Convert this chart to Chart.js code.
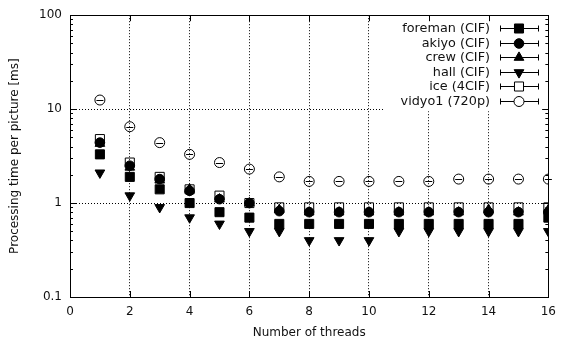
<!doctype html>
<html>
<head>
<meta charset="utf-8" />
<title>Processing time per picture</title>
<script src="https://cdn.jsdelivr.net/npm/chart.js"></script>
<style>
  html, body { margin: 0; padding: 0; background: #fff; }
  #wrap { width: 564px; height: 338px; }
</style>
</head>
<body>
<div id="wrap"><canvas id="c"></canvas></div>
<script>
// Werte
const threads = [1, 2, 3, 4, 5, 6, 7, 8, 9, 10, 11, 12, 13, 14, 15, 16];
const foreman = [3.3, 1.9, 1.4, 1.0, 0.8, 0.7, 0.6, 0.6, 0.6, 0.6, 0.6, 0.6, 0.6, 0.6, 0.6, 0.7];
const akiyo   = [4.4, 2.5, 1.8, 1.35, 1.1, 1.0, 0.82, 0.8, 0.8, 0.8, 0.8, 0.8, 0.8, 0.8, 0.8, 0.8];
const crew    = [4.3, 2.4, 1.75, 1.4, 1.1, 1.0, 0.85, 0.8, 0.8, 0.8, 0.8, 0.8, 0.8, 0.85, 0.8, 0.85];
const hall    = [2.1, 1.2, 0.9, 0.7, 0.6, 0.5, 0.5, 0.4, 0.4, 0.4, 0.5, 0.5, 0.5, 0.5, 0.5, 0.5];
const ice     = [4.8, 2.7, 1.9, 1.4, 1.2, 1.0, 0.9, 0.9, 0.9, 0.9, 0.9, 0.9, 0.9, 0.9, 0.9, 0.9];
const vidyo1  = [12.5, 6.5, 4.4, 3.3, 2.7, 2.3, 1.9, 1.7, 1.7, 1.7, 1.7, 1.7, 1.8, 1.8, 1.8, 1.8];

const seriesNames = ["foreman (CIF)", "akiyo (CIF)", "crew (CIF)", "hall (CIF)", "ice (4CIF)", "vidyo1 (720p)"];
const seriesValues = [foreman, akiyo, crew, hall, ice, vidyo1];
const xTicks = [0, 2, 4, 6, 8, 10, 12, 14, 16];
const yTicks = [0.1, 1, 10, 100];

const FONT = "'DejaVu Sans', sans-serif";
const INK = "#111";

const styles = [
  { pointStyle: "rect", radius: 6.4, fill: "#000", rot: 0 },
  { pointStyle: "circle", radius: 4.8, fill: "#000", rot: 0 },
  { pointStyle: "triangle", radius: 5.6, fill: "#000", rot: 0 },
  { pointStyle: "triangle", radius: 5.6, fill: "#000", rot: 180 },
  { pointStyle: "rect", radius: 6.4, fill: "rgba(0,0,0,0)", rot: 0 },
  { pointStyle: "circle", radius: 5, fill: "rgba(0,0,0,0)", rot: 0 }
];

const datasets = seriesNames.map((name, i) => ({
  label: name,
  data: threads.map((t, k) => ({ x: t, y: seriesValues[i][k] })),
  showLine: false,
  pointStyle: styles[i].pointStyle,
  pointRadius: styles[i].radius,
  pointRotation: styles[i].rot,
  pointBackgroundColor: styles[i].fill,
  pointBorderColor: "#000",
  pointBorderWidth: 1,
  order: 6 - i
}));

// Legende (Gnuplot-Stil) + Rahmen mit Innen-Ticks
const gnuplotLook = {
  id: "gnuplotLook",
  beforeDatasetsDraw(chart) {
    const ctx = chart.ctx, a = chart.chartArea;
    ctx.save();
    ctx.fillStyle = "#fff";
    ctx.fillRect(385, a.top + 1, a.right - 386, 95);
    ctx.restore();
  },
  afterDatasetsDraw(chart) {
    // kleine Fehlerbalken-Striche im vidyo1-Kreis
    const ctx = chart.ctx;
    const meta = chart.getDatasetMeta(5);
    ctx.save();
    ctx.strokeStyle = "#000";
    ctx.lineWidth = 1;
    ctx.beginPath();
    meta.data.forEach(p => {
      const y = Math.round(p.y) + 0.5;
      ctx.moveTo(p.x - 3.5, y); ctx.lineTo(p.x + 3.5, y);
    });
    ctx.stroke();
    ctx.restore();
  },
  afterDraw(chart) {
    const ctx = chart.ctx, a = chart.chartArea;
    const xs = chart.scales.x, ys = chart.scales.y;
    ctx.save();
    ctx.strokeStyle = "#000";
    ctx.lineWidth = 1;
    ctx.strokeRect(Math.round(a.left) + 0.5, Math.round(a.top) + 0.5,
      Math.round(a.right - a.left), Math.round(a.bottom - a.top));
    ctx.beginPath();
    xTicks.forEach(v => {
      const px = Math.round(xs.getPixelForValue(v)) + 0.5;
      ctx.moveTo(px, a.bottom); ctx.lineTo(px, a.bottom - 6);
      ctx.moveTo(px, a.top); ctx.lineTo(px, a.top + 6);
    });
    for (let d = 0.1; d < 100; d *= 10) {
      for (let m = 1; m <= 10; m++) {
        const py = Math.round(ys.getPixelForValue(d * m)) + 0.5;
        const len = (m === 1 || m === 10) ? 6 : 3;
        ctx.moveTo(a.left, py); ctx.lineTo(a.left + len, py);
        ctx.moveTo(a.right, py); ctx.lineTo(a.right - len, py);
      }
    }
    ctx.stroke();

    // Legende
    ctx.font = "12.8px " + FONT;
    ctx.textAlign = "right";
    ctx.textBaseline = "middle";
    seriesNames.forEach((name, i) => {
      const y = Math.round(28 + i * 14.6) + 0.5;
      ctx.fillStyle = INK;
      ctx.fillText(name, 490, y);
      ctx.beginPath();
      ctx.moveTo(500.5, y - 3); ctx.lineTo(500.5, y + 3);
      ctx.moveTo(538.5, y - 3); ctx.lineTo(538.5, y + 3);
      ctx.moveTo(500, y); ctx.lineTo(539, y);
      ctx.stroke();
      const st = styles[i];
      ctx.fillStyle = st.fill === "#000" ? "#000" : "#fff";
      Chart.helpers.drawPoint(ctx, {
        pointStyle: st.pointStyle, radius: st.radius, rotation: st.rot, borderWidth: 1
      }, 519, y);
    });
    ctx.restore();
  }
};

new Chart(document.getElementById("c"), {
  type: "scatter",
  data: { datasets },
  plugins: [gnuplotLook],
  options: {
    responsive: true,
    maintainAspectRatio: false,
    animation: false,
    layout: { padding: { left: 0, right: 11, top: 15, bottom: 0 } },
    plugins: { legend: { display: false }, tooltip: { enabled: false } },
    scales: {
      x: {
        type: "linear", min: 0, max: 16,
        afterBuildTicks: s => { s.ticks = xTicks.map(v => ({ value: v })); },
        afterFit: s => { s.height = 41; },
        grid: {
          color: c => (c.tick && (c.tick.value === 0 || c.tick.value === 16)) ? "rgba(0,0,0,0)" : "#000",
          drawTicks: false, lineWidth: 1
        },
        border: { display: false, dash: [1, 2] },
        ticks: { color: INK, font: { family: FONT, size: 12 }, padding: 8, maxRotation: 0 },
        title: { display: true, text: "Number of threads", color: INK, font: { family: FONT, size: 12 }, padding: { top: -2, bottom: -2 } }
      },
      y: {
        type: "logarithmic", min: 0.1, max: 100,
        afterBuildTicks: s => { s.ticks = yTicks.map(v => ({ value: v })); },
        afterFit: s => { s.width = 70; },
        grid: {
          color: c => (c.tick && (c.tick.value === 0.1 || c.tick.value === 100)) ? "rgba(0,0,0,0)" : "#000",
          drawTicks: false, lineWidth: 1
        },
        border: { display: false, dash: [1, 2] },
        ticks: {
          color: INK, font: { family: FONT, size: 12 }, padding: 8,
          callback: v => String(v)
        },
        title: { display: true, text: "Processing time per picture [ms]", color: INK, font: { family: FONT, size: 12 }, padding: { top: 8, bottom: 8 } }
      }
    }
  }
});
</script>
</body>
</html>
